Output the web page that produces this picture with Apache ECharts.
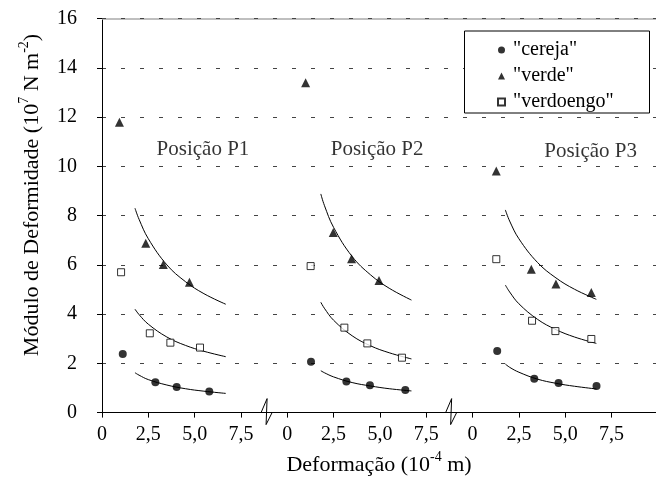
<!DOCTYPE html>
<html><head><meta charset="utf-8">
<script src="https://cdn.jsdelivr.net/npm/echarts@6/dist/echarts.min.js"></script>
<style>html,body{margin:0;padding:0;background:#fff}#c{width:656px;height:477px}</style>
</head><body><div id="c"></div>
<script>
const seriesNames = ['"cereja"', '"verde"', '"verdoengo"'];
const panelNames = ['Posição P1', 'Posição P2', 'Posição P3'];
const panelOffset = [0, 10, 20];
const xTickLabels = ['0', '2,5', '5,0', '7,5'];

// measured points, per panel (x: 10^-4 m, y: 10^7 N m^-2)
const cerejaX = [[1.12, 2.88, 4.03, 5.79], [1.28, 3.19, 4.46, 6.37], [1.33, 3.33, 4.64, 6.69]];
const cerejaY = [[2.38, 1.23, 1.04, 0.86], [2.06, 1.26, 1.11, 0.92], [2.50, 1.37, 1.20, 1.08]];
const verdeX = [[0.94, 2.36, 3.31, 4.72], [0.99, 2.48, 3.47, 4.95], [1.28, 3.17, 4.50, 6.41]];
const verdeY = [[11.79, 6.88, 6.01, 5.29], [13.40, 7.31, 6.25, 5.36], [9.81, 5.82, 5.22, 4.88]];
const verdoengoX = [[1.03, 2.58, 3.69, 5.29], [1.26, 3.08, 4.32, 6.19], [1.28, 3.21, 4.47, 6.41]];
const verdoengoY = [[5.70, 3.22, 2.84, 2.64], [5.95, 3.45, 2.81, 2.23], [6.23, 3.73, 3.31, 2.99]];

// fitted curves
const curveX = [[1.78, 2.0, 2.5, 3.5, 4.5, 5.5, 6.68], [1.81, 2.0, 2.5, 3.5, 4.5, 5.5, 6.70], [1.77, 2.0, 2.5, 3.5, 4.5, 5.5, 6.68]];
const cerejaCurveY = [[1.62, 1.52, 1.34, 1.12, 0.97, 0.87, 0.78], [1.70, 1.62, 1.45, 1.22, 1.08, 0.97, 0.88], [1.97, 1.84, 1.64, 1.36, 1.19, 1.07, 0.96]];
const verdeCurveY = [[8.30, 7.85, 7.06, 6.00, 5.32, 4.83, 4.40], [8.88, 8.42, 7.52, 6.34, 5.59, 5.05, 4.57], [8.23, 7.78, 7.06, 6.10, 5.47, 5.01, 4.60]];
const verdoengoCurveY = [[4.20, 3.98, 3.59, 3.07, 2.73, 2.49, 2.27], [4.48, 4.24, 3.75, 3.12, 2.71, 2.43, 2.18], [5.18, 4.90, 4.42, 3.79, 3.37, 3.07, 2.81]];

// annotation anchors (data units, local to each panel)
const labelX = [5.45, 4.85, 6.37];
const labelY = [10.67, 10.67, 10.6];
const breakX = [8.91, 18.87];

const FONT = '"Liberation Serif", "Times New Roman", serif';

function pts(xs, ys) {
  const out = [];
  for (let p = 0; p < xs.length; p++) {
    for (let i = 0; i < xs[p].length; i++) out.push([xs[p][i] + panelOffset[p], ys[p][i]]);
  }
  return out;
}

const series = [
  { type: 'scatter', name: seriesNames[0], symbol: 'circle', symbolSize: 8,
    itemStyle: { color: '#000' }, data: pts(cerejaX, cerejaY), z: 5 },
  { type: 'scatter', name: seriesNames[1], symbol: 'triangle', symbolSize: 9,
    itemStyle: { color: '#000' }, data: pts(verdeX, verdeY), z: 5 },
  { type: 'scatter', name: seriesNames[2], symbol: 'rect', symbolSize: 7,
    itemStyle: { color: '#fff', borderColor: '#000', borderWidth: 1 }, data: pts(verdoengoX, verdoengoY), z: 5,
    markLine: { silent: true, symbol: 'none', label: { show: false }, animation: false,
      data: [
        { yAxis: 16, lineStyle: { type: 'solid', color: '#aaa', width: 1.5 } },
        { yAxis: 16, lineStyle: { type: [4, 15], color: '#444', width: 1 } }
      ] } }
];

[cerejaCurveY, verdeCurveY, verdoengoCurveY].forEach((cy, k) => {
  for (let p = 0; p < 3; p++) {
    series.push({
      type: 'line', name: 'fit' + k + '_' + p, smooth: 0.4, showSymbol: false, silent: true,
      lineStyle: { color: '#000', width: 1 }, itemStyle: { color: '#000' },
      data: curveX[p].map((x, i) => [x + panelOffset[p], cy[p][i]]), z: 4
    });
  }
});

series.push({
  type: 'scatter', name: 'labels', symbolSize: 0, silent: true,
  data: panelNames.map((n, p) => ({ name: n, value: [labelX[p] + panelOffset[p], labelY[p]] })),
  label: { show: true, position: 'inside', formatter: (d) => d.name, fontFamily: FONT, fontSize: 21, color: '#000' }
});

series.push({
  type: 'custom', name: 'breaks', silent: true, clip: false, z: 6,
  data: breakX.map(x => [x, 0]),
  renderItem: function (params, api) {
    const c = api.coord([api.value(0), api.value(1)]);
    return {
      type: 'polyline',
      shape: { points: [[c[0] - 6, c[1]], [c[0], c[1] - 14], [c[0] - 1, c[1] + 12], [c[0] + 5, c[1]]] },
      style: { stroke: '#000', lineWidth: 1, fill: null }
    };
  }
});

const chart = echarts.init(document.getElementById('c'), null, { renderer: 'canvas' });
chart.setOption({
  animation: false,
  backgroundColor: '#fff',
  grid: { left: 102, right: 0, top: 18.6, bottom: 64.4, containLabel: false, outerBoundsMode: 'none' },
  xAxis: {
    type: 'value', min: 0, max: 29.9, interval: 2.5,
    axisLine: { lineStyle: { color: '#000', width: 1 } },
    axisTick: { inside: false, length: 5, lineStyle: { color: '#000' } },
    axisLabel: {
      fontFamily: FONT, fontSize: 20, color: '#000', margin: 12, showMaxLabel: false,
      formatter: function (v) { const k = Math.round((v % 10) / 2.5); return xTickLabels[k % 4]; }
    },
    splitLine: { show: false },
    name: '{n|Deformação (10}{s|-4}{n| m)}',
    nameLocation: 'middle', nameGap: 38,
    nameTextStyle: {
      color: '#000',
      rich: {
        n: { fontFamily: FONT, fontSize: 22, color: '#000', lineHeight: 26, verticalAlign: 'bottom' },
        s: { fontFamily: FONT, fontSize: 14, color: '#000', lineHeight: 14, verticalAlign: 'top' }
      }
    }
  },
  yAxis: {
    type: 'value', min: 0, max: 16, interval: 2,
    axisLine: { show: true, lineStyle: { color: '#000', width: 1 } },
    axisTick: { show: true, inside: false, length: 5, lineStyle: { color: '#000' } },
    axisLabel: { fontFamily: FONT, fontSize: 20, color: '#000', margin: 25 },
    splitLine: { show: true, lineStyle: { type: [4, 15], color: '#444', width: 1 } }
  },
  legend: {
    orient: 'vertical', left: 497, top: 40,
    data: [
      { name: seriesNames[0], icon: 'circle' },
      { name: seriesNames[1], icon: 'triangle' },
      { name: seriesNames[2], icon: 'rect' }
    ],
    itemWidth: 7, itemHeight: 7, itemGap: 6,
    padding: 0,
    selectedMode: false,
    z: 10,
    textStyle: { fontFamily: FONT, fontSize: 20, color: '#000', lineHeight: 20, padding: [0, 0, 0, 3] }
  },
  graphic: [{
    type: 'rect', z: 8, silent: true,
    shape: { x: 464.5, y: 31, width: 185, height: 82 },
    style: { fill: '#fff', stroke: '#000', lineWidth: 1 }
  }, {
    type: 'text', x: 30, y: 195, rotation: Math.PI / 2, silent: true,
    style: {
      text: '{n|Módulo de Deformidade (10}{s|7}{n| N m}{s|-2}{n|)}',
      align: 'center', verticalAlign: 'middle', fill: '#000',
      rich: {
        n: { fontFamily: FONT, fontSize: 22, fill: '#000', lineHeight: 26, verticalAlign: 'bottom' },
        s: { fontFamily: FONT, fontSize: 14, fill: '#000', lineHeight: 14, verticalAlign: 'top' }
      }
    }
  }],
  series: series
});
</script>
</body></html>
